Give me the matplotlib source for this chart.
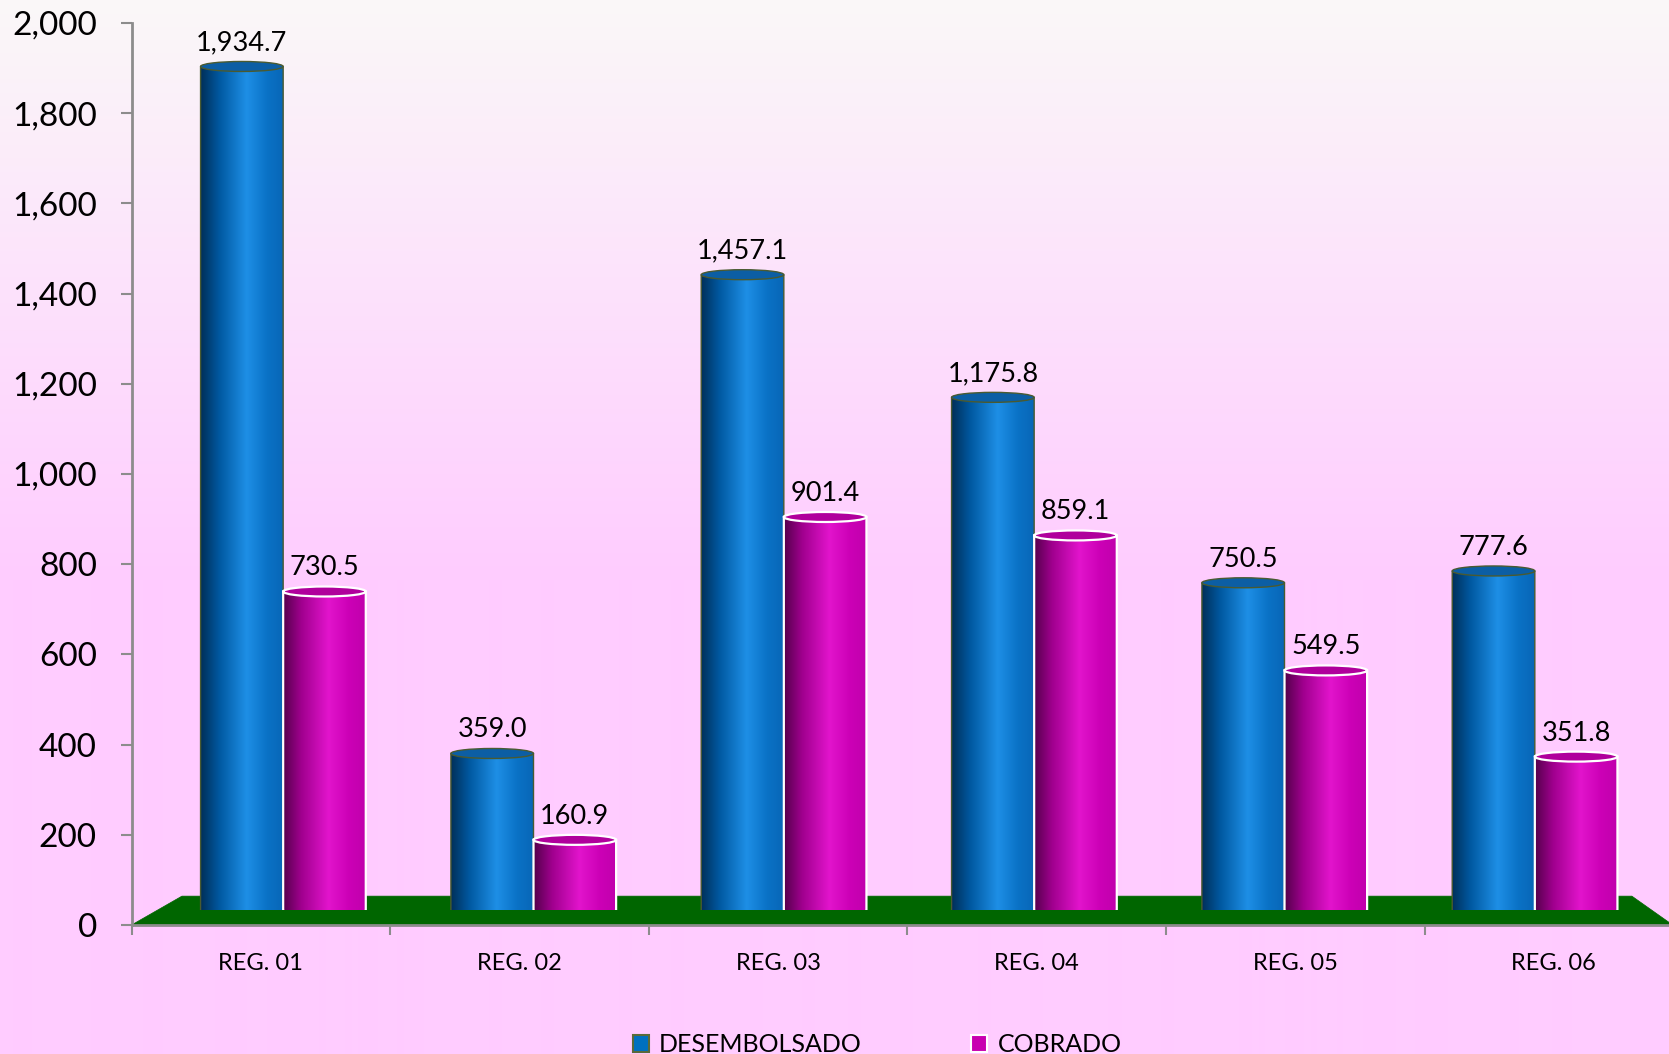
import numpy as np
import matplotlib
matplotlib.use("Agg")
import matplotlib.pyplot as plt
from matplotlib.patches import Ellipse, PathPatch, Polygon, Patch
from matplotlib.path import Path
from matplotlib.colors import LinearSegmentedColormap, to_rgb
from matplotlib.ticker import FuncFormatter

plt.rcParams['font.family'] = ['Lato', 'DejaVu Sans']

# ---------------- data ----------------
categories = ["REG. 01", "REG. 02", "REG. 03", "REG. 04", "REG. 05", "REG. 06"]
desembolsado = [1934.7, 359.0, 1457.1, 1175.8, 750.5, 777.6]
cobrado = [730.5, 160.9, 901.4, 859.1, 549.5, 351.8]
series_names = ["DESEMBOLSADO", "COBRADO"]
y_ticks = [0, 200, 400, 600, 800, 1000, 1200, 1400, 1600, 1800, 2000]

W, H = 1669, 1054
fig = plt.figure(figsize=(W / 100, H / 100), dpi=100)


def px_rect(left, top, right, bottom):
    return [left / W, 1 - bottom / H, (right - left) / W, (bottom - top) / H]


# ---------------- background gradient ----------------
bg = fig.add_axes([0, 0, 1, 1], zorder=-10)
top_c = np.array(to_rgb("#FAF8F8"))
bot_c = np.array(to_rgb("#FFCCFF"))
t = np.linspace(0, 1, H)
m = np.clip(t / 0.55, 0, 1)[:, None]
grad = (top_c[None, :] * (1 - m) + bot_c[None, :] * m)[:, None, :]
bg.imshow(grad, extent=[0, 1, 0, 1], aspect="auto", interpolation="bilinear")
bg.set_xlim(0, 1)
bg.set_ylim(0, 1)
bg.axis("off")

# ---------------- main (front) axes ----------------
ax = fig.add_axes(px_rect(131.5, 23, 131.5 + 6 * 258.6, 925), zorder=1)
ax.set_facecolor("none")
ax.set_xlim(0, 6)
ax.set_ylim(0, 2000)
for s in ["top", "right"]:
    ax.spines[s].set_visible(False)
for s in ["left", "bottom"]:
    ax.spines[s].set_color("#8C8C8C")
    ax.spines[s].set_linewidth(2)
ax.set_yticks(y_ticks)
ax.yaxis.set_major_formatter(FuncFormatter(lambda v, p: f"{v:,.0f}"))
ax.tick_params(axis="y", direction="out", length=8, width=1.5, color="#8C8C8C",
               pad=17, labelsize=24, labelcolor="black")
ax.set_xticks(np.arange(0, 7))
ax.set_xticklabels([])
ax.set_xticks(np.arange(len(categories)) + 0.5, minor=True)
ax.set_xticklabels(categories, minor=True)
ax.tick_params(axis="x", which="major", direction="out", length=7, width=1.5, color="#8C8C8C")
ax.tick_params(axis="x", which="minor", length=0, pad=20, labelsize=17)

# floor
floor = Polygon([(0, 0), (0.195, 64), (5.802, 64), (5.96, 0)], closed=True,
                facecolor="#006600", edgecolor="#006600", lw=0.5, zorder=0, clip_on=False)
ax.add_patch(floor)

# ---------------- back plane axes for the bars ----------------
ax2 = fig.add_axes(px_rect(158, 38, 158 + 1502, 910), zorder=2)
ax2.patch.set_alpha(0)
ax2.axis("off")

blue_cmap = LinearSegmentedColormap.from_list(
    "blue", [(0, "#00305A"), (0.22, "#0058A0"), (0.55, "#1E8FE6"), (0.8, "#0A72C6"), (1, "#0866B6")])
mag_cmap = LinearSegmentedColormap.from_list(
    "mag", [(0, "#55004C"), (0.22, "#A0008E"), (0.55, "#E214CC"), (0.8, "#CC00B6"), (1, "#C000AC")])

styles = [
    dict(cmap=blue_cmap, cap="#0C5EA4", edge="#4A5A30", lw=1.0),
    dict(cmap=mag_cmap, cap="#B0009C", edge="white", lw=1.6),
]

bw = 0.33
eh = 10 / (872 / 2000)  # ellipse height in data units (10 px)
gvals = np.linspace(0, 1, 256)[None, :]

for si, values in enumerate([desembolsado, cobrado]):
    st = styles[si]
    for i, v in enumerate(values):
        x0 = i + 0.17 + si * bw
        x1 = x0 + bw
        xc = (x0 + x1) / 2
        th = np.linspace(np.pi, 2 * np.pi, 40)
        verts = [(xc + bw / 2 * np.cos(a), eh / 2 * np.sin(a)) for a in th]
        verts += [(x1, v), (x0, v), (x0, 0)]
        codes = [Path.MOVETO] + [Path.LINETO] * (len(verts) - 2) + [Path.CLOSEPOLY]
        pp = PathPatch(Path(verts, codes), facecolor="none", edgecolor=st["edge"],
                       lw=st["lw"], zorder=3)
        ax2.add_patch(pp)
        im = ax2.imshow(gvals, cmap=st["cmap"], extent=[x0, x1, -eh, v], aspect="auto",
                        interpolation="bicubic", zorder=2)
        im.set_clip_path(pp)
        cap = Ellipse((xc, v), bw, eh, facecolor=st["cap"], edgecolor=st["edge"],
                      lw=st["lw"], zorder=4)
        ax2.add_patch(cap)
        ax2.annotate(f"{v:,.1f}", (xc, v), xytext=(0, 8), textcoords="offset points",
                     ha="center", va="bottom", fontsize=19.5, color="black",
                     annotation_clip=False, zorder=5)

ax2.set_xlim(0, 6)
ax2.set_ylim(0, 2000)

# ---------------- legend ----------------
handles = [Patch(facecolor="#0070C0", edgecolor="#5A6A3A", lw=1.5),
           Patch(facecolor="#C800B0", edgecolor="white", lw=1.5)]
fig.legend(handles, series_names, loc="center", bbox_to_anchor=(877 / W, 1 - 1045 / H),
           ncol=2, frameon=False, fontsize=18, handlelength=0.64, handleheight=0.64,
           handletextpad=0.4, columnspacing=4.4)

fig.savefig("out.png", dpi=100)
